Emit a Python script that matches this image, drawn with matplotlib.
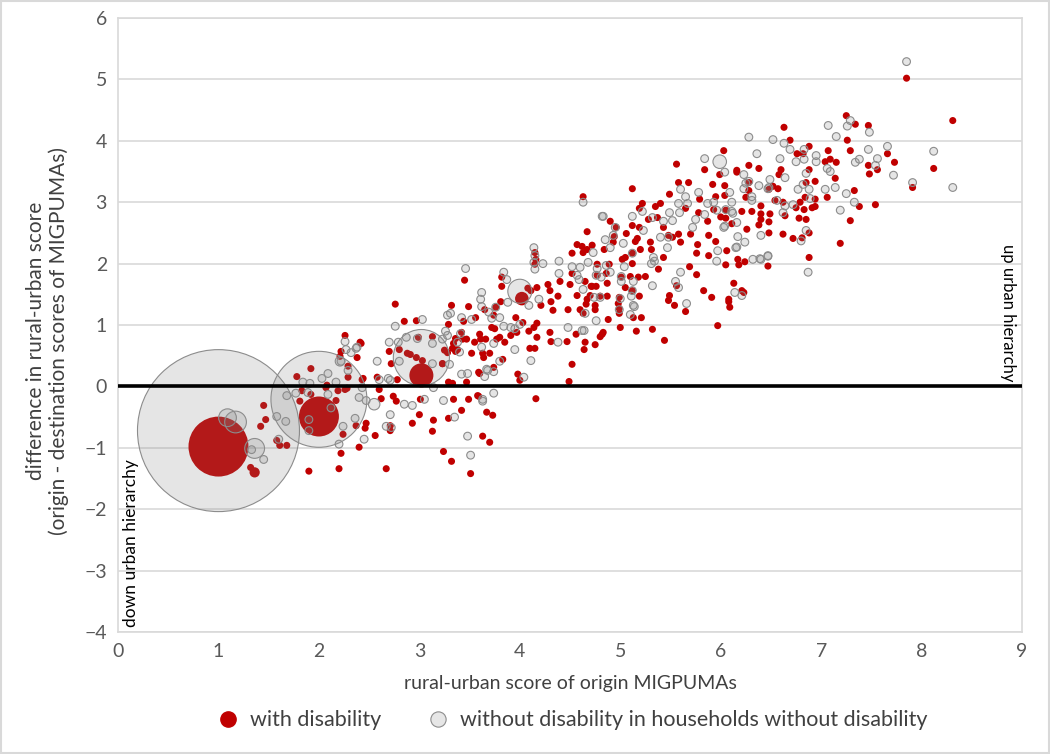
import numpy as np
import matplotlib.pyplot as plt
from matplotlib.lines import Line2D
from matplotlib.patches import Rectangle

plt.rcParams['font.family'] = ['Lato', 'DejaVu Sans']

# large bubbles (count of migrants, relative)
red_big_x = [1.00, 2.00, 3.02, 4.02, 1.36]
red_big_y = [-0.98, -0.49, 0.18, 1.43, -1.40]
red_big_n = [137, 61, 22, 7, 4]

gray_big_x = [1.00, 2.00, 3.02, 4.00, 5.99, 1.09, 1.17, 1.36, 2.55, 2.21]
gray_big_y = [-0.72, -0.21, 0.47, 1.55, 3.66, -0.51, -0.58, -1.01, -0.29, 0.41]
gray_big_n = [1000, 351, 120, 22, 7, 12, 18, 15, 5, 3.5]

# small flows
red_dot_n = 1.9
gray_dot_n = 2.3

red_x = [
    7.25, 7.34, 7.47, 6.63, 6.69, 6.88, 7.26, 7.29, 7.07, 6.76,
    6.82, 7.66, 7.09, 7.04, 7.15, 7.47, 7.73, 7.56, 7.48, 6.88,
    6.60, 6.58, 6.38, 6.28, 6.16, 7.14, 6.94, 6.85, 7.91, 7.33,
    6.52, 6.57, 6.48, 6.28, 6.28, 6.04, 6.04, 6.25, 6.94, 7.06,
    6.84, 6.79, 6.54, 6.62, 7.38, 7.54, 6.94, 6.91, 6.75, 6.83,
    6.40, 6.31, 6.21, 6.05, 6.00, 6.64, 6.78, 6.85, 7.29, 6.40,
    6.49, 6.40, 6.48, 6.38, 6.26, 6.11, 6.48, 6.62, 6.72, 6.81,
    6.88, 7.19, 6.06, 6.88, 6.17, 6.24, 6.05, 6.18, 6.47, 6.13,
    6.21, 6.23, 6.08, 7.85, 8.31, 8.12,
    6.03, 5.56, 5.84, 6.16, 5.99, 5.92, 5.58, 5.68, 5.12, 5.49,
    5.79, 5.95, 4.63, 5.22, 5.40, 5.35, 5.19, 5.78, 5.65, 5.93,
    6.05, 5.87, 5.37, 5.28, 4.90, 5.12, 5.19, 5.43, 4.67, 5.06,
    4.94, 5.48, 5.52, 5.58, 5.88, 5.95, 5.70, 5.17, 4.93, 5.30,
    5.60, 5.77, 4.67, 4.63, 4.84, 5.20, 5.31, 5.05, 5.02, 5.43,
    5.76, 5.88, 5.12, 4.89, 4.77, 5.38, 5.69, 5.76, 5.25, 5.10,
    5.01, 5.18, 4.71, 4.76, 4.87, 5.05, 5.12, 5.56, 5.83, 4.70,
    4.87, 5.19, 5.49, 5.91, 4.66, 4.75, 4.98, 5.48, 5.54, 6.08,
    6.09, 4.63, 4.99, 5.65, 4.88, 5.21, 5.00, 5.16, 5.32, 5.97,
    4.83, 4.80, 5.44,
    4.96, 5.15, 4.57, 4.62, 4.72, 4.52, 5.12, 4.15, 4.16, 4.15,
    4.52, 4.86, 4.65, 4.77, 4.28, 4.40, 4.50, 4.72, 3.45, 3.82,
    3.82, 4.08, 4.11, 4.17, 4.30, 4.38, 4.57, 4.67, 4.80, 4.99,
    3.32, 3.49, 3.81, 4.21, 4.31, 4.33, 4.48, 4.60, 4.75, 4.99,
    3.65, 3.74, 3.96, 3.44, 3.56, 3.72, 3.75, 4.03, 4.14, 4.17,
    5.13, 3.42, 3.60, 3.80, 3.91, 3.97, 4.09, 4.30, 4.56, 4.82,
    4.17, 4.31, 4.47, 4.65, 4.75, 3.34, 3.47, 3.55, 3.61, 3.66,
    3.77, 3.85, 3.33, 3.38, 3.52, 3.64, 3.70, 4.10, 4.15, 4.64,
    3.83, 3.25, 3.23, 3.74, 4.52, 3.60, 3.98, 4.00, 4.49, 3.47,
    3.33, 3.58, 4.16, 3.34,
    2.76, 3.76, 2.85, 2.97, 3.29, 2.26, 2.41, 2.99, 3.13, 3.36,
    3.43, 2.22, 2.38, 2.80, 2.88, 2.91, 3.28, 3.36, 3.63, 1.92,
    2.29, 2.43, 2.58, 2.72, 2.78, 3.03, 3.23, 3.29, 3.59, 2.26,
    2.60, 2.07, 2.74, 2.62, 3.01, 3.49, 3.59, 2.77, 3.42, 3.67,
    3.73, 3.00, 3.14, 3.29, 2.93, 3.13, 2.71, 2.71, 2.47, 2.46,
    2.56, 3.63, 3.70, 2.24, 2.40, 2.22, 3.24, 3.32, 2.20, 2.67,
    3.51, 1.90,
    1.45, 1.47, 1.42, 1.58, 1.61, 1.68, 1.32, 1.78, 1.83, 1.92,
    1.81, 2.08, 2.19, 2.28, 2.17, 2.21, 2.29, 2.42, 2.44, 2.37,
    2.70, 2.97,
]
red_y = [
    4.41, 4.27, 4.25, 4.22, 4.01, 3.91, 4.01, 3.84, 3.84, 3.79,
    3.79, 3.79, 3.70, 3.66, 3.65, 3.60, 3.65, 3.53, 3.46, 3.53,
    3.53, 3.45, 3.55, 3.60, 3.52, 3.39, 3.34, 3.32, 3.24, 3.19,
    3.26, 3.22, 3.21, 3.32, 3.19, 3.27, 3.11, 3.08, 3.05, 3.08,
    3.08, 3.00, 3.03, 3.00, 2.93, 2.96, 2.93, 2.91, 2.91, 2.88,
    2.94, 2.85, 2.85, 2.87, 2.76, 2.78, 2.74, 2.72, 2.70, 2.81,
    2.81, 2.72, 2.68, 2.63, 2.56, 2.65, 2.50, 2.48, 2.41, 2.42,
    2.50, 2.33, 2.21, 2.10, 2.07, 2.03, 1.98, 1.98, 1.96, 1.68,
    1.56, 1.53, 1.42, 5.02, 4.33, 3.55,
    3.84, 3.62, 3.53, 3.49, 3.45, 3.29, 3.32, 3.32, 3.22, 3.13,
    3.05, 3.09, 3.09, 2.98, 2.98, 2.93, 2.90, 2.83, 2.90, 2.88,
    2.74, 2.69, 2.75, 2.72, 2.69, 2.62, 2.59, 2.59, 2.52, 2.49,
    2.44, 2.46, 2.43, 2.48, 2.46, 2.36, 2.48, 2.41, 2.35, 2.35,
    2.35, 2.31, 2.23, 2.18, 2.23, 2.23, 2.23, 2.10, 2.07, 2.10,
    2.17, 2.13, 2.00, 1.99, 1.99, 1.91, 1.95, 1.82, 1.79, 1.79,
    1.78, 1.78, 1.63, 1.63, 1.68, 1.61, 1.56, 1.64, 1.56, 1.48,
    1.47, 1.47, 1.48, 1.45, 1.34, 1.32, 1.35, 1.40, 1.32, 1.38,
    1.29, 1.19, 1.19, 1.22, 1.09, 1.12, 0.96, 0.90, 0.93, 0.99,
    0.88, 0.81, 0.75,
    2.59, 2.36, 2.31, 2.28, 2.30, 2.17, 2.17, 2.18, 2.07, 1.99,
    1.84, 1.84, 1.71, 1.81, 1.66, 1.71, 1.66, 1.63, 1.73, 1.78,
    1.63, 1.60, 1.56, 1.61, 1.56, 1.47, 1.48, 1.42, 1.47, 1.45,
    1.32, 1.30, 1.38, 1.32, 1.38, 1.24, 1.25, 1.25, 1.25, 1.27,
    1.25, 1.16, 1.12, 1.06, 1.12, 0.96, 0.94, 1.04, 0.96, 1.03,
    1.12, 0.88, 0.85, 0.80, 0.83, 0.88, 0.90, 0.88, 0.85, 0.85,
    0.80, 0.73, 0.73, 0.72, 0.68, 0.70, 0.77, 0.72, 0.77, 0.77,
    0.77, 0.72, 0.62, 0.60, 0.54, 0.47, 0.54, 0.62, 0.62, 0.60,
    0.44, 0.59, 0.37, 0.31, 0.36, 0.21, 0.20, 0.10, 0.08, 0.07,
    0.05, -0.15, -0.20, -0.21,
    1.34, 1.29, 1.06, 1.07, 1.01, 0.83, 0.72, 0.80, 0.81, 0.78,
    0.77, 0.57, 0.47, 0.60, 0.54, 0.52, 0.55, 0.57, 0.54, 0.29,
    0.33, 0.11, 0.15, 0.37, 0.11, 0.42, 0.37, 0.07, 0.23, -0.05,
    -0.05, -0.02, -0.16, -0.20, -0.21, -0.21, -0.16, -0.24, -0.39, -0.42,
    -0.47, -0.46, -0.55, -0.52, -0.60, -0.73, -0.64, -0.72, -0.60, -0.68,
    -0.80, -0.81, -0.91, -0.78, -0.99, -1.09, -1.06, -1.22, -1.34, -1.34,
    -1.42, -1.38,
    -0.31, -0.54, -0.65, -0.88, -0.96, -0.96, -1.32, 0.16, -0.07, -0.13,
    -0.24, 0.02, -0.07, -0.03, -0.23, 0.49, 0.15, 0.70, 0.13, -0.64,
    0.57, 0.47,
]

gray_x = [
    7.29, 7.26, 7.07, 7.48, 7.15, 6.28, 6.52, 6.63, 6.69, 6.83,
    6.95, 6.83, 6.75, 6.95, 6.36, 6.59, 7.47, 7.66, 7.56, 7.54,
    7.38, 7.34, 7.72, 7.91, 7.09, 7.06, 6.85, 6.64, 6.49, 6.82,
    6.77, 6.88, 7.04, 7.14, 7.25, 6.48, 6.38, 6.23, 6.89, 6.72,
    6.56, 6.64, 6.31, 6.31, 6.11, 7.19, 7.33, 6.62, 6.11, 6.16,
    6.04, 6.40, 6.17, 6.24, 6.16, 6.85, 6.80, 6.47, 6.39, 6.32,
    6.87, 6.14, 6.21, 7.85, 8.12, 8.31,
    6.04, 5.84, 6.23, 6.28, 6.25, 6.09, 6.47, 5.78, 5.65, 5.60,
    5.93, 5.87, 5.67, 5.58, 5.96, 6.05, 5.49, 5.22, 5.59, 4.82,
    5.75, 5.84, 6.12, 5.52, 5.43, 5.32, 5.72, 6.03, 4.95, 5.23,
    5.40, 5.48, 4.85, 5.03, 4.90, 5.47, 5.97, 6.15, 4.73, 5.12,
    5.33, 5.96, 6.40, 6.47, 5.04, 5.31, 5.34, 5.60, 4.76, 4.81,
    5.01, 5.32, 5.55, 5.58, 4.74, 4.80, 5.66, 5.13, 4.99, 5.10,
    4.65, 4.76, 4.62,
    4.63, 4.83, 5.12, 4.93, 4.14, 4.15, 4.14, 4.15, 4.23, 4.39,
    4.52, 4.60, 4.68, 4.86, 4.90, 4.77, 5.01, 5.13, 5.12, 5.11,
    5.00, 4.39, 4.57, 4.59, 4.63, 5.14, 3.46, 3.84, 3.87, 3.62,
    3.61, 3.62, 4.09, 4.19, 3.88, 3.76, 3.31, 3.28, 3.42, 3.52,
    3.69, 3.80, 3.84, 3.91, 4.00, 3.95, 3.72, 4.48, 4.64, 4.38,
    3.26, 3.28, 3.23, 3.41, 3.38, 3.62, 3.74, 3.95, 3.40, 3.30,
    3.80, 3.42, 3.48, 3.67, 4.11, 4.04, 3.74, 3.63,
    3.03, 2.76, 2.70, 2.26, 2.27, 2.22, 2.37, 2.58, 2.80, 2.71,
    2.60, 3.24, 3.05, 2.93, 2.85, 2.71, 2.67, 3.35, 3.63, 3.48,
    3.51, 3.68, 3.65, 3.74, 2.45, 2.20, 2.24,
    1.45, 1.33, 1.58, 1.67, 1.60, 1.68, 1.89, 1.77, 1.84, 1.91,
    2.03, 2.09, 2.17, 2.29, 2.32, 2.38, 2.40, 2.47, 2.43, 2.36,
    2.12, 2.09, 1.90, 1.90, 2.69, 2.79, 2.72, 2.87, 2.98, 3.13,
    3.13, 3.14,
]
gray_y = [
    4.33, 4.24, 4.25, 4.14, 4.07, 4.06, 4.02, 3.96, 3.86, 3.86,
    3.76, 3.70, 3.66, 3.66, 3.79, 3.71, 3.86, 3.91, 3.71, 3.60,
    3.70, 3.65, 3.44, 3.32, 3.50, 3.55, 3.47, 3.40, 3.37, 3.29,
    3.21, 3.21, 3.21, 3.24, 3.14, 3.24, 3.27, 3.22, 3.06, 2.96,
    3.03, 2.94, 3.09, 3.03, 3.00, 2.87, 3.00, 2.83, 2.85, 2.67,
    2.61, 2.46, 2.44, 2.35, 2.27, 2.54, 2.37, 2.12, 2.08, 2.07,
    1.86, 1.53, 1.48, 5.29, 3.83, 3.24,
    3.49, 3.71, 3.45, 3.34, 3.31, 3.16, 3.22, 3.16, 3.09, 3.21,
    3.00, 2.98, 2.98, 2.98, 2.87, 2.88, 2.83, 2.85, 2.83, 2.77,
    2.72, 2.80, 2.82, 2.70, 2.69, 2.75, 2.59, 2.59, 2.59, 2.54,
    2.43, 2.43, 2.39, 2.33, 2.26, 2.26, 2.21, 2.26, 2.18, 2.17,
    2.10, 2.04, 2.07, 2.13, 1.95, 2.00, 2.04, 1.86, 1.81, 1.78,
    1.71, 1.64, 1.71, 1.61, 1.45, 1.45, 1.35, 1.32, 1.25, 1.17,
    1.19, 1.07, 0.91,
    3.00, 2.77, 2.77, 2.46, 2.26, 2.13, 2.02, 1.91, 2.00, 2.04,
    1.95, 1.94, 2.02, 1.97, 1.86, 1.92, 1.79, 1.71, 1.56, 1.47,
    1.43, 1.84, 1.81, 1.74, 1.58, 1.30, 1.92, 1.86, 1.74, 1.53,
    1.42, 1.30, 1.32, 1.42, 1.37, 1.29, 1.19, 1.16, 1.12, 1.09,
    1.21, 1.12, 0.98, 0.96, 1.01, 0.94, 1.11, 0.96, 0.91, 0.72,
    0.90, 0.83, 0.77, 0.86, 0.72, 0.64, 0.70, 0.60, 0.56, 0.36,
    0.41, 0.20, 0.21, 0.28, 0.42, 0.15, -0.11, -0.21,
    1.09, 0.98, 0.72, 0.73, 0.60, 0.41, 0.62, 0.41, 0.41, 0.10,
    0.11, -0.23, -0.21, -0.31, -0.29, -0.46, -0.65, -0.50, -0.24, -0.81,
    -1.12, 0.26, 0.16, 0.24, -0.86, -0.94, -0.65,
    -1.19, -1.03, -0.49, -0.57, -0.86, -0.15, -0.10, -0.11, 0.07, 0.05,
    0.13, 0.21, 0.07, 0.26, 0.55, 0.64, -0.18, -0.23, -0.02, -0.52,
    -0.35, -0.13, -0.54, -0.72, 0.13, 0.72, -0.67, 0.80, 0.78, 0.70,
    0.37, -0.02,
]

x_ticks = list(range(0, 10))
y_ticks = list(range(-4, 7))

SCALE = 13.6  # points^2 per unit of bubble value

red_all_x = red_big_x + red_x
red_all_y = red_big_y + red_y
red_all_s = np.array(red_big_n + [red_dot_n] * len(red_x)) * SCALE
gray_all_x = gray_big_x + gray_x
gray_all_y = gray_big_y + gray_y
gray_all_s = np.array(gray_big_n + [gray_dot_n] * len(gray_x)) * SCALE

fig = plt.figure(figsize=(10.5, 7.54), dpi=100)
ax = fig.add_axes([0.1124, 0.1618, 0.861, 0.8143])

ax.scatter(red_all_x, red_all_y, s=red_all_s, color='#c00000',
           edgecolors='none', zorder=3)
ax.scatter(gray_all_x, gray_all_y, s=gray_all_s,
           facecolors=(0.5, 0.5, 0.5, 0.2), edgecolors='#8c8c8c',
           linewidths=0.8, zorder=4)
ax.axhline(0, color='black', lw=2.6, zorder=5)

ax.set_xlim(0, 9)
ax.set_ylim(-4, 6)
ax.set_xticks(x_ticks)
ax.set_yticks(y_ticks)
ax.grid(axis='y', color='#d9d9d9', lw=1.2)
ax.set_axisbelow(True)
ax.tick_params(length=0, labelsize=14, colors='#595959', pad=8)
for sp in ax.spines.values():
    sp.set_color('#d9d9d9')
    sp.set_linewidth(1.2)

ax.set_xlabel('rural-urban score of origin MIGPUMAs', fontsize=14,
              color='#404040', labelpad=11)
fig.text(0.045, 0.548, 'difference in rural-urban score\n'
         '(origin - destination scores of MIGPUMAs)', rotation=90,
         ha='center', va='center', fontsize=15, color='#404040',
         linespacing=1.15)

ax.text(0.006, 0.008, 'down urban hierarchy', transform=ax.transAxes,
        rotation=90, ha='left', va='bottom', fontsize=12.5, color='black')
ax.text(0.993, 0.632, 'up urban hierarchy', transform=ax.transAxes,
        rotation=270, ha='right', va='top', fontsize=12, color='black')

handles = [
    Line2D([], [], marker='o', ls='none', markersize=11,
           markerfacecolor='#c00000', markeredgecolor='#c00000'),
    Line2D([], [], marker='o', ls='none', markersize=11,
           markerfacecolor='#e6e6e6', markeredgecolor='#8c8c8c',
           markeredgewidth=0.8),
]
fig.legend(handles, ['with disability',
                     'without disability in households without disability'],
           loc='center', bbox_to_anchor=(0.54, 0.045), ncol=2,
           frameon=False, fontsize=15.5, handletextpad=0.05,
           columnspacing=1.6, labelcolor='#404040')

fig.patches.append(Rectangle((0.001, 0.001), 0.998, 0.998,
                             transform=fig.transFigure, fill=False,
                             edgecolor='#d9d9d9', lw=1.5))

fig.savefig('out.png', dpi=100)
